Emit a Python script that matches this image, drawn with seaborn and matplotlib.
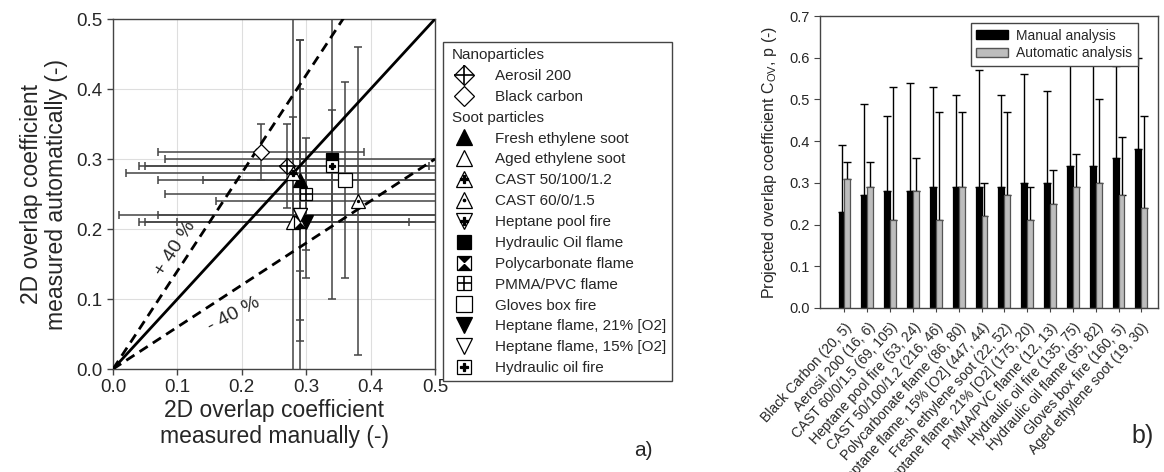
import numpy as np
import pandas as pd
import seaborn as sns
import matplotlib.pyplot as plt
import matplotlib.transforms as mtransforms
from matplotlib.lines import Line2D
from matplotlib.patches import Patch

# ---------------- panel a) : manual vs automatic 2D overlap coefficient
species = ["Aerosil 200", "Black carbon", "Fresh ethylene soot", "Aged ethylene soot",
           "CAST 50/100/1.2", "CAST 60/0/1.5", "Heptane pool fire", "Hydraulic Oil flame",
           "Polycarbonate flame", "PMMA/PVC flame", "Gloves box fire",
           "Heptane flame, 21% [O2]", "Heptane flame, 15% [O2]", "Hydraulic oil fire"]
x_manual = [0.27, 0.23, 0.29, 0.28, 0.28, 0.38, 0.29, 0.34, 0.29, 0.30, 0.36, 0.30, 0.29, 0.34]
y_auto = [0.29, 0.31, 0.27, 0.21, 0.28, 0.24, 0.22, 0.30, 0.21, 0.25, 0.27, 0.21, 0.22, 0.29]
x_err = [0.22, 0.16, 0.22, 0.18, 0.26, 0.22, 0.28, 0.26, 0.24, 0.22, 0.22, 0.26, 0.22, 0.30]
y_err = [0.06, 0.04, 0.20, 0.32, 0.08, 0.22, 0.08, 0.20, 0.26, 0.08, 0.14, 0.08, 0.18, 0.08]
n_nano = 2
slopes = [1.0, 1.4, 0.6]

# ---------------- panel b) : projected overlap coefficient per sample
samples = ["Black Carbon (20, 5)", "Aerosil 200 (16, 6)", "CAST 60/0/1.5 (69, 105)",
           "Heptane pool fire (53, 24)", "CAST 50/100/1.2 (216, 46)",
           "Polycarbonate flame (86, 80)", "Heptane flame, 15% [O2] (447, 44)",
           "Fresh ethylene soot (22, 52)", "Heptane flame, 21% [O2] (175, 20)",
           "PMMA/PVC flame (12, 13)", "Hydraulic oil fire (135, 75)",
           "Hydraulic oil flame (95, 82)", "Gloves box fire (160, 5)",
           "Aged ethylene soot (19, 30)"]
manual_cov = [0.23, 0.27, 0.28, 0.28, 0.29, 0.29, 0.29, 0.29, 0.30, 0.30, 0.34, 0.34, 0.36, 0.38]
auto_cov = [0.31, 0.29, 0.21, 0.28, 0.21, 0.29, 0.22, 0.27, 0.21, 0.25, 0.29, 0.30, 0.27, 0.24]
manual_sd = [0.16, 0.22, 0.18, 0.26, 0.24, 0.22, 0.28, 0.22, 0.26, 0.22, 0.30, 0.26, 0.22, 0.22]
auto_sd = [0.04, 0.06, 0.32, 0.08, 0.26, 0.18, 0.08, 0.20, 0.08, 0.08, 0.08, 0.20, 0.14, 0.22]

sns.set_style("ticks")
plt.rcParams['font.family'] = ['Liberation Sans', 'DejaVu Sans']
plt.rcParams['mathtext.fontset'] = 'custom'
plt.rcParams['mathtext.rm'] = 'Liberation Sans'

# marker layers (marker, size, face) for each species of panel a)
HG = [(-1, 1), (1, 1), (-1, -1), (1, -1), (-1, 1)]
W, K = 'white', 'black'
layers = [
    [("D", 8.5, W), ("+", 12, K)],
    [("D", 8.5, W)],
    [("^", 10, K)],
    [("^", 10, W)],
    [("^", 10, W), ("P", 4.5, K)],
    [("^", 10, W), (".", 3, K)],
    [("v", 10, W), ("P", 4.5, K)],
    [("s", 9, K)],
    [("s", 9, W), (HG, 9, K)],
    [("s", 9, W), ("+", 9, K)],
    [("s", 10, W)],
    [("v", 10, K)],
    [("v", 10, W)],
    [("s", 9, W), ("P", 4.5, K)],
]


def marker_kw(mk, ms, fc):
    hollow = mk in ("+",)
    return dict(linestyle='none', marker=mk, markersize=ms,
                markerfacecolor=fc, markeredgecolor='black',
                markeredgewidth=0 if isinstance(mk, list) else (1.2 if hollow else 0.9))


fig = plt.figure(figsize=(11.64, 4.72), dpi=100)
ax1 = fig.add_axes([0.0971, 0.2182, 0.2766, 0.7415])
ax2 = fig.add_axes([0.7045, 0.3475, 0.2904, 0.6186])

# ---- panel a
ax1.grid(True, color='#dedede', lw=0.8)
ax1.set_axisbelow(True)
line_x = np.array([0.0, 0.5])
for s in slopes:
    ax1.plot(line_x, s * line_x, color='black', lw=2,
             ls='-' if s == 1.0 else (0, (3.5, 2.2)), zorder=3)

ax1.errorbar(x_manual, y_auto, xerr=x_err, yerr=y_err, fmt='none',
             ecolor='#444444', elinewidth=1.1, capsize=2.8, capthick=1.1, zorder=2)

legend_handles, legend_labels = [], []
for i, name in enumerate(species):
    hs = []
    for mk, ms, fc in layers[i]:
        ax1.plot([x_manual[i]], [y_auto[i]], zorder=5 + 0.01 * i, **marker_kw(mk, ms, fc))
        hs.append(Line2D([], [], **marker_kw(mk, ms, fc)))
    legend_handles.append(tuple(hs))
    legend_labels.append(name)

blank = Line2D([], [], linestyle='none')
legend_handles = ([blank] + legend_handles[:n_nano] + [blank] + legend_handles[n_nano:])
legend_labels = (["Nanoparticles"] + legend_labels[:n_nano] + ["Soot particles"]
                 + legend_labels[n_nano:])

ax1.text(0.097, 0.172, "+ 40 %", rotation=58, fontsize=14, ha='center', va='center',
         rotation_mode='anchor')
ax1.text(0.187, 0.078, "- 40 %", rotation=28, fontsize=14, ha='center', va='center',
         rotation_mode='anchor')

ax1.set_xlim(0, 0.5)
ax1.set_ylim(0, 0.5)
ax1.set_xticks(np.arange(0, 0.51, 0.1))
ax1.set_yticks(np.arange(0, 0.51, 0.1))
ax1.xaxis.set_major_formatter(plt.FormatStrFormatter('%.1f'))
ax1.yaxis.set_major_formatter(plt.FormatStrFormatter('%.1f'))
ax1.tick_params(labelsize=13.5, length=4, width=1, color='#444444', direction='out')
for sp in ax1.spines.values():
    sp.set_color('#444444')
    sp.set_linewidth(1)
ax1.set_xlabel("2D overlap coefficient\nmeasured manually (-)", fontsize=16.5, labelpad=2,
               linespacing=1.15)
ax1.set_ylabel("2D overlap coefficient\nmeasured automatically (-)", fontsize=16.5,
               labelpad=6, linespacing=1.1)

leg = fig.legend(legend_handles, legend_labels, loc='upper left',
                 bbox_to_anchor=(443 / 1164, 1 - 42 / 472), borderaxespad=0,
                 fontsize=11, labelspacing=0.45, handlelength=2.0, handletextpad=1.0,
                 borderpad=0.4, markerscale=1.15, fancybox=False, framealpha=1,
                 edgecolor='#444444')
leg.get_frame().set_linewidth(1)
for t in leg.get_texts():
    if t.get_text() in ("Nanoparticles", "Soot particles"):
        t.set_x(-43)

# ---- panel b
df = pd.DataFrame({
    "sample": samples * 2,
    "cov": manual_cov + auto_cov,
    "analysis": ["Manual analysis"] * len(samples) + ["Automatic analysis"] * len(samples),
})
sns.barplot(data=df, x="sample", y="cov", hue="analysis", palette=["black", "#bdbdbd"],
            width=0.52, errorbar=None, saturation=1, legend=False, ax=ax2, zorder=2)
for cont, err, ec in zip(ax2.containers, [manual_sd, auto_sd], ['black', '#555555']):
    for p in cont:
        p.set_edgecolor(ec)
        p.set_linewidth(0.9)
    xs = [p.get_x() + p.get_width() / 2 for p in cont]
    hs = [p.get_height() for p in cont]
    ax2.errorbar(xs, hs, yerr=[np.zeros(len(err)), err], fmt='none', ecolor='black',
                 elinewidth=1, capsize=3, capthick=1, zorder=1.5)

ax2.set_xlim(-1.07, len(samples) - 0.27)
ax2.set_ylim(0, 0.7)
ax2.set_yticks(np.arange(0, 0.71, 0.1))
ax2.yaxis.set_major_formatter(plt.FormatStrFormatter('%.1f'))
ax2.set_xticks(range(len(samples)))
ax2.set_xticklabels(samples, rotation=48, ha='right', va='top', rotation_mode='anchor',
                    fontsize=10)
shift = mtransforms.ScaledTranslation(5 / 72, 0, fig.dpi_scale_trans)
for lab in ax2.get_xticklabels():
    lab.set_transform(lab.get_transform() + shift)
ax2.tick_params(axis='y', labelsize=10.5, length=4, color='#444444')
ax2.tick_params(axis='x', length=3, color='#444444', pad=6)
for sp in ax2.spines.values():
    sp.set_color('#444444')
    sp.set_linewidth(1)
ax2.set_xlabel("")
ax2.set_ylabel(r"Projected overlap coefficient C$_{\mathrm{OV}}$, p (-)", fontsize=11.5,
               labelpad=7)

leg2 = ax2.legend(handles=[Patch(facecolor='black', edgecolor='black'),
                           Patch(facecolor='#bdbdbd', edgecolor='#555555')],
                  labels=["Manual analysis", "Automatic analysis"], loc='upper right',
                  bbox_to_anchor=(1 - 20 / 338, 1 - 7 / 292), borderaxespad=0,
                  fontsize=10, handlelength=2.3, handleheight=0.6, handletextpad=0.6,
                  labelspacing=0.25, borderpad=0.4, fancybox=False, framealpha=1,
                  edgecolor='#444444')
leg2.get_frame().set_linewidth(1)
leg2.set_zorder(10)

fig.text(643 / 1164, 1 - 450 / 472, "a)", fontsize=15, ha='center', va='center')
fig.text(1143 / 1164, 1 - 436 / 472, "b)", fontsize=18, ha='center', va='center')

fig.savefig("out.png", dpi=100)
